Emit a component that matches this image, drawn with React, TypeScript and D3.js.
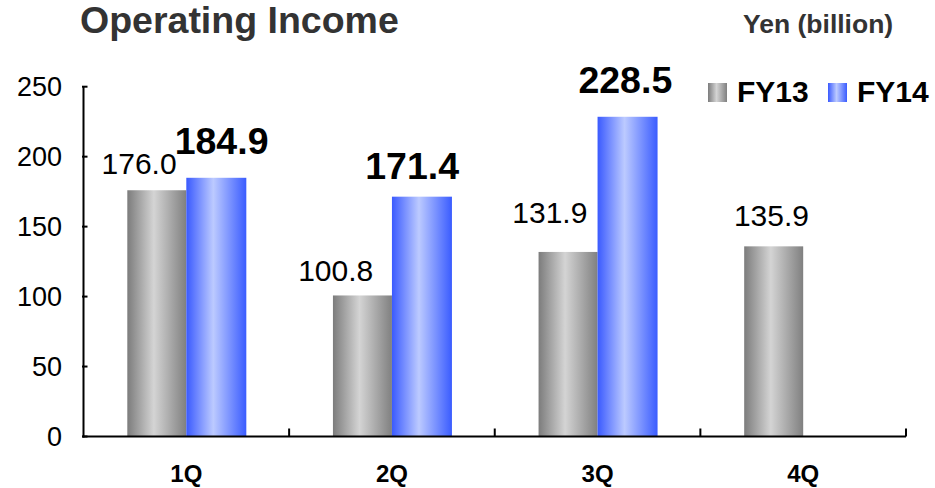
import React, { useEffect, useRef } from "react";
import * as d3 from "d3";

const categories = ["1Q", "2Q", "3Q", "4Q"];
const fy13 = [176.0, 100.8, 131.9, 135.9];
const fy14: (number | null)[] = [184.9, 171.4, 228.5, null];
const yTicks = [0, 50, 100, 150, 200, 250];
const seriesNames = ["FY13", "FY14"];

// layout tweaks for value labels (px)
const fy13LabelDx = [-17.75, -26.75, -18.25, -2.25];
const fy13LabelDy = [16, 14, 29, 20];
const fy14LabelDx = [5.75, -9.25, -1.75, 0];
const fy14LabelDy = [24, 18, 24, 0];

const W = 935;
const H = 488;
const FONT = "'Liberation Sans', Arial, sans-serif";

export default function App() {
  const ref = useRef<SVGSVGElement>(null);

  useEffect(() => {
    const svg = d3.select(ref.current!);
    svg.selectAll("*").remove();

    const defs = svg.append("defs");
    const mkGrad = (id: string, stops: [number, string][]) => {
      const g = defs
        .append("linearGradient")
        .attr("id", id)
        .attr("x1", "0")
        .attr("x2", "1")
        .attr("y1", "0")
        .attr("y2", "0");
      stops.forEach(([o, c]) => g.append("stop").attr("offset", o).attr("stop-color", c));
    };
    mkGrad("gGray", [
      [0, "#7c7c7c"],
      [0.45, "#d4d4d4"],
      [1, "#808080"],
    ]);
    mkGrad("gBlue", [
      [0, "#3a5aff"],
      [0.45, "#bccaff"],
      [1, "#3a5cff"],
    ]);

    const x = d3.scaleBand<string>().domain(categories).range([83.5, 906]).paddingInner(0).paddingOuter(0);
    const y = d3.scaleLinear().domain([0, 250]).range([436.5, 86.7]);
    const bw = 59;

    // Title
    svg
      .append("text")
      .attr("x", 80)
      .attr("y", 33)
      .attr("font-family", FONT)
      .attr("font-weight", "bold")
      .attr("font-size", 37.5)
      .attr("fill", "#333333")
      .text("Operating Income");

    svg
      .append("text")
      .attr("x", 743)
      .attr("y", 33)
      .attr("font-family", FONT)
      .attr("font-weight", "bold")
      .attr("font-size", 26.5)
      .attr("fill", "#333333")
      .text("Yen (billion)");

    // bars
    const g = svg.append("g");
    categories.forEach((c, i) => {
      const cx = x(c)! + x.bandwidth() / 2;
      const v13 = fy13[i];
      g.append("rect")
        .attr("x", cx - bw)
        .attr("y", y(v13))
        .attr("width", bw)
        .attr("height", y(0) - y(v13))
        .attr("fill", "url(#gGray)");
      const v14 = fy14[i];
      if (v14 != null) {
        g.append("rect")
          .attr("x", cx)
          .attr("y", y(v14))
          .attr("width", bw + 1)
          .attr("height", y(0) - y(v14))
          .attr("fill", "url(#gBlue)");
      }
    });

    // axes
    const axisG = svg.append("g").attr("stroke", "#000").attr("stroke-width", 2);
    axisG
      .append("line")
      .attr("x1", x.range()[0])
      .attr("x2", x.range()[0])
      .attr("y1", y(250))
      .attr("y2", y(0) + 1);
    axisG
      .append("line")
      .attr("x1", x.range()[0] - 1)
      .attr("x2", x.range()[1])
      .attr("y1", y(0))
      .attr("y2", y(0));
    yTicks.forEach((t) => {
      axisG
        .append("line")
        .attr("x1", x.range()[0] - 1.5)
        .attr("x2", x.range()[0] + 4)
        .attr("y1", y(t))
        .attr("y2", y(t));
      svg
        .append("text")
        .attr("x", 62)
        .attr("y", y(t))
        .attr("dy", "0.36em")
        .attr("text-anchor", "end")
        .attr("font-family", FONT)
        .attr("font-size", 27)
        .attr("fill", "#000")
        .text(String(t));
    });
    categories.forEach((c) => {
      const bx = x(c)! + x.bandwidth();
      axisG
        .append("line")
        .attr("x1", bx)
        .attr("x2", bx)
        .attr("y1", y(0))
        .attr("y2", y(0) - 8);
      svg
        .append("text")
        .attr("x", x(c)! + x.bandwidth() / 2)
        .attr("y", 482)
        .attr("text-anchor", "middle")
        .attr("font-family", FONT)
        .attr("font-weight", "bold")
        .attr("font-size", 24)
        .attr("fill", "#000")
        .text(c);
    });

    // value labels
    categories.forEach((c, i) => {
      const cx = x(c)! + x.bandwidth() / 2;
      const v13 = fy13[i];
      svg
        .append("text")
        .attr("x", cx - bw / 2 + fy13LabelDx[i])
        .attr("y", y(v13) - fy13LabelDy[i])
        .attr("text-anchor", "middle")
        .attr("font-family", FONT)
        .attr("font-size", 30)
        .attr("fill", "#000")
        .text(v13.toFixed(1));
      const v14 = fy14[i];
      if (v14 != null) {
        svg
          .append("text")
          .attr("x", cx + bw / 2 + fy14LabelDx[i])
          .attr("y", y(v14) - fy14LabelDy[i])
          .attr("text-anchor", "middle")
          .attr("font-family", FONT)
          .attr("font-weight", "bold")
          .attr("font-size", 37.5)
          .attr("fill", "#000")
          .text(v14.toFixed(1));
      }
    });

    // legend
    const legend = [
      { name: seriesNames[0], fill: "url(#gGray)", sx: 708, tx: 737 },
      { name: seriesNames[1], fill: "url(#gBlue)", sx: 828, tx: 857 },
    ];
    legend.forEach((l) => {
      svg
        .append("rect")
        .attr("x", l.sx)
        .attr("y", 83)
        .attr("width", 19)
        .attr("height", 19)
        .attr("fill", l.fill);
      svg
        .append("text")
        .attr("x", l.tx)
        .attr("y", 102)
        .attr("font-family", FONT)
        .attr("font-weight", "bold")
        .attr("font-size", 30)
        .attr("fill", "#000")
        .text(l.name);
    });
  }, []);

  return (
    <svg
      ref={ref}
      width={W}
      height={H}
      viewBox={`0 0 ${W} ${H}`}
      style={{ position: "absolute", left: 0, top: 0, background: "#fff" }}
    />
  );
}
